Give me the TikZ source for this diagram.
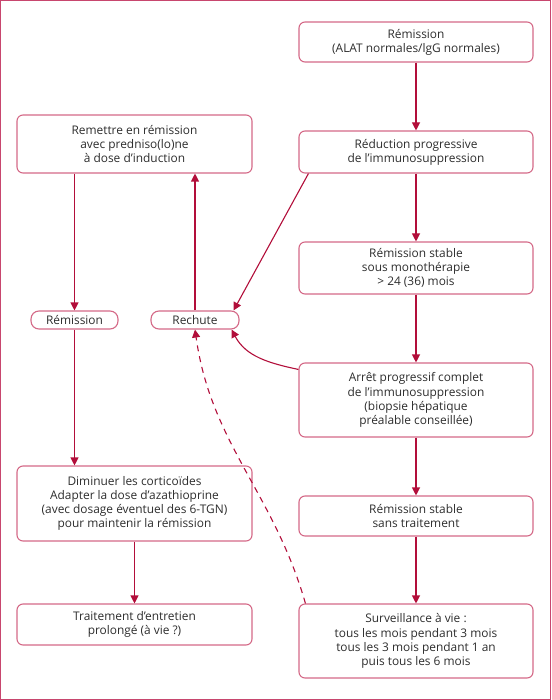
\documentclass[tikz,border=0pt]{standalone}
\usepackage{fontspec}
\setmainfont{Open Sans}
\usetikzlibrary{arrows.meta,calc}
\definecolor{boxcol}{RGB}{212,105,135}
\definecolor{framecol}{RGB}{200,70,110}
\definecolor{arrcol}{RGB}{178,14,58}
\definecolor{txtcol}{RGB}{45,45,45}
\begin{document}
\begin{tikzpicture}[x=1pt,y=1pt,
  box/.style={draw=boxcol,line width=1.1pt,rounded corners=6pt,align=center,
    font=\fontsize{11.9}{14.2}\selectfont,text=txtcol,inner sep=0pt},
  pill/.style={box,rounded corners=8pt},
  arr/.style={draw=arrcol,line width=1.1pt,-{Triangle[width=8pt,length=8pt]}}]
\useasboundingbox (0,0) rectangle (551,-700);
\draw[framecol,line width=1.4pt] (0.7,-0.7) rectangle (550.3,-699.3);
% right column
\node[box,minimum width=234pt,minimum height=40pt] (A) at (416,-42) {Rémission\\(ALAT normales/lgG normales)};
\node[box,minimum width=234pt,minimum height=42pt] (B) at (416,-152) {Réduction progressive\\de l’immunosuppression};
\node[box,minimum width=234pt,minimum height=52pt] (C) at (416,-268) {Rémission stable\\sous monothérapie\\> 24 (36) mois};
\node[box,minimum width=234pt,minimum height=74pt] (D) at (416,-400) {Arrêt progressif complet\\de l’immunosuppression\\(biopsie hépatique\\préalable conseillée)};
\node[box,minimum width=234pt,minimum height=40pt] (E) at (416,-516) {Rémission stable\\sans traitement};
\node[box,minimum width=234pt,minimum height=74pt] (F) at (416,-641) {Surveillance à vie :\\tous les mois pendant 3 mois\\tous les 3 mois pendant 1 an\\puis tous les 6 mois};
% left column
\node[box,minimum width=235pt,minimum height=58pt] (G) at (134.5,-144) {Remettre en rémission\\avec predniso(lo)ne\\à dose d’induction};
\node[pill,minimum width=87pt,minimum height=18pt] (H) at (74.5,-320) {Rémission};
\node[pill,minimum width=88pt,minimum height=18pt] (I) at (195,-320) {Rechute};
\node[box,minimum width=235pt,minimum height=75pt] (J) at (134.5,-503.5) {Diminuer les corticoïdes\\Adapter la dose d’azathioprine\\(avec dosage éventuel des 6-TGN)\\pour maintenir la rémission};
\node[box,minimum width=235pt,minimum height=41pt] (K) at (134.5,-624.5) {Traitement d’entretien\\prolongé (à vie ?)};
% connectors
\draw[arr] (A) -- (B);
\draw[arr] (B) -- (C);
\draw[arr] (C) -- (D);
\draw[arr] (D) -- (E);
\draw[arr] (E) -- (F);
\draw[arr] (G.south -| H.north) -- (H.north);
\draw[arr] (H.south) -- (H.south |- J.north);
\draw[arr] (J) -- (K);
\draw[arr] (I.north) -- (I.north |- G.south);
\coordinate (b1) at ($(B.south west)+(10,0)$);
\coordinate (i1) at ($(I.north east)+(-6,0)$);
\draw[arr] (b1) -- (i1);
\coordinate (d1) at ($(D.north west)+(0,-7)$);
\coordinate (i2) at ($(I.south east)+(-8,0)$);
\draw[arr] (d1) to[out=168,in=-62] (i2);
\coordinate (f1) at ($(F.north west)+(7,0)$);
\draw[arr,dash pattern=on 6pt off 5pt] (f1) to[out=106,in=-82] (I.south);
\end{tikzpicture}
\end{document}
